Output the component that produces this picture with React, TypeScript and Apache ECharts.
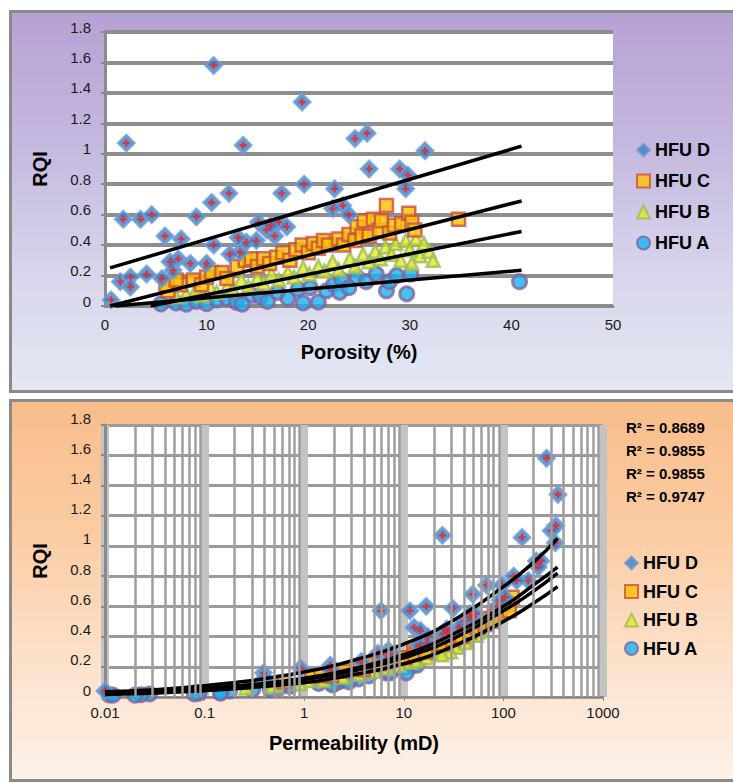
import React, { useEffect, useRef } from "react";
import * as echarts from "echarts";

// Each sample: [porosity %, RQI, permeability mD]
const hfuD: number[][] = [
  [0.6, 0.04, 0.01], [2.1, 1.07, 24.4], [10.7, 1.58, 271], [19.4, 1.34, 353],
  [13.6, 1.056, 154], [24.6, 1.1, 302], [25.8, 1.135, 337], [31.5, 1.02, 332],
  [26.0, 0.9, 214], [29.0, 0.9, 238], [29.8, 0.86, 224], [29.6, 0.77, 178],
  [1.8, 0.57, 5.9], [3.5, 0.57, 11.5], [4.6, 0.6, 16.8], [5.9, 0.46, 12.7],
  [7.5, 0.44, 14.7], [9.0, 0.585, 31.2], [10.5, 0.68, 49.2], [12.2, 0.74, 67.8],
  [17.4, 0.74, 96.6], [19.6, 0.8, 127], [22.6, 0.77, 136], [23.4, 0.66, 103],
  [24.0, 0.6, 87.6], [22.4, 0.64, 93], [1.5, 0.16, 0.39], [2.5, 0.19, 0.92],
  [2.5, 0.125, 0.4], [4.1, 0.21, 1.83], [5.6, 0.18, 1.84], [6.7, 0.235, 3.75],
  [7.2, 0.31, 7.0], [8.4, 0.28, 6.7], [10.0, 0.28, 7.95], [10.7, 0.4, 17.4],
  [13.3, 0.355, 17.0], [13.9, 0.42, 24.9], [15.1, 0.55, 46.3], [15.9, 0.5, 40.3],
  [17.1, 0.55, 52.5], [17.9, 0.52, 49.1], [16.7, 0.46, 35.8], [14.9, 0.43, 27.9],
  [12.3, 0.34, 14.4], [13.1, 0.45, 26.9], [6.4, 0.29, 5.5], [16.3, 0.53, 46.4],
];

const hfuC: number[][] = [
  [6.2, 0.1, 0.63], [6.0, 0.14, 1.19], [7.4, 0.14, 1.47], [7.0, 0.17, 2.05],
  [8.7, 0.17, 2.55], [9.5, 0.14, 1.89], [10.0, 0.19, 3.66], [10.5, 0.22, 5.15],
  [11.5, 0.22, 5.65], [12.0, 0.18, 3.94], [13.0, 0.26, 8.91], [13.8, 0.3, 12.6],
  [14.4, 0.31, 14.0], [15.0, 0.26, 10.3], [15.6, 0.31, 15.2], [16.2, 0.28, 12.9],
  [16.9, 0.32, 17.6], [17.5, 0.35, 21.7], [18.2, 0.3, 16.6], [18.8, 0.37, 26.1],
  [19.4, 0.4, 31.5], [20.0, 0.35, 24.8], [20.5, 0.41, 35.0], [21.0, 0.38, 30.8],
  [21.5, 0.43, 40.3], [22.0, 0.4, 35.7], [23.0, 0.44, 45.2], [23.5, 0.4, 38.1],
  [24.0, 0.47, 53.8], [24.6, 0.43, 46.1], [24.8, 0.52, 68.0], [25.3, 0.46, 54.3],
  [25.5, 0.56, 81.1], [26.0, 0.46, 55.8], [26.4, 0.57, 87.0], [27.0, 0.5, 68.5],
  [27.2, 0.56, 86.5], [27.7, 0.66, 122.4], [28.0, 0.48, 65.4], [28.5, 0.53, 81.2],
  [29.2, 0.54, 86.4], [29.9, 0.61, 112.8], [30.2, 0.55, 92.7], [30.5, 0.5, 77.3],
  [34.8, 0.57, 114.7],
];

const hfuB: number[][] = [
  [7.0, 0.06, 0.26], [8.0, 0.08, 0.52], [9.0, 0.11, 1.1], [9.6, 0.07, 0.48],
  [10.4, 0.12, 1.52], [11.0, 0.09, 0.9], [12.1, 0.14, 2.41], [12.6, 0.11, 1.55],
  [13.4, 0.17, 3.93], [14.1, 0.13, 2.42], [15.0, 0.18, 4.93], [15.6, 0.15, 3.56],
  [16.4, 0.21, 7.34], [17.1, 0.17, 5.01], [18.0, 0.22, 8.84], [18.6, 0.19, 6.81],
  [19.5, 0.25, 12.4], [20.1, 0.21, 8.99], [21.0, 0.26, 14.4], [21.6, 0.23, 11.6],
  [22.4, 0.29, 19.1], [23.0, 0.24, 13.4], [24.1, 0.31, 23.5], [24.6, 0.26, 16.9],
  [25.4, 0.34, 29.8], [26.0, 0.29, 22.2], [26.6, 0.36, 35.0], [27.1, 0.31, 26.4],
  [27.6, 0.39, 42.6], [28.2, 0.34, 33.1], [28.6, 0.41, 48.8], [29.1, 0.3, 26.6],
  [29.6, 0.43, 55.5], [30.0, 0.37, 41.7], [30.6, 0.44, 60.1], [31.0, 0.33, 34.2],
  [31.4, 0.41, 53.5], [31.9, 0.36, 41.9], [32.3, 0.3, 29.5], [30.2, 0.28, 24.0],
];

const hfuA: number[][] = [
  [5.5, 0.014, 0.011], [7.0, 0.02, 0.028], [8.0, 0.012, 0.012], [9.0, 0.03, 0.082],
  [10.0, 0.015, 0.023], [11.0, 0.04, 0.178], [12.0, 0.05, 0.304], [12.9, 0.026, 0.088],
  [13.5, 0.012, 0.02], [14.5, 0.07, 0.72], [15.3, 0.06, 0.56], [16.0, 0.03, 0.146],
  [17.0, 0.09, 1.4], [18.0, 0.05, 0.456], [19.0, 0.11, 2.33], [19.5, 0.02, 0.079],
  [20.2, 0.12, 2.95], [21.0, 0.026, 0.144], [21.8, 0.1, 2.21], [22.5, 0.14, 4.47],
  [23.1, 0.09, 1.9], [23.3, 0.17, 6.83], [24.0, 0.12, 3.51], [24.8, 0.19, 9.08],
  [25.7, 0.16, 6.67], [26.7, 0.21, 11.9], [27.7, 0.1, 2.81], [28.0, 0.16, 7.27],
  [28.7, 0.2, 11.6], [29.7, 0.08, 1.93], [30.1, 0.21, 13.5], [40.8, 0.16, 10.6],
];

// Trend lines
const porTrendD = [[0.5, 0.25], [41, 1.05]];
const porTrendC = [[0.5, 0.0], [41, 0.69]];
const porTrendB = [[4.5, 0.0], [41, 0.49]];
const porTrendA = [[1.0, 0.0], [41, 0.235]];

const permTrendD = [[0.01, 0.035], [0.1, 0.075], [1, 0.165], [3, 0.24], [10, 0.35], [30, 0.5], [100, 0.73], [200, 0.89], [350, 1.05]];
const permTrendC = [[0.01, 0.026], [0.1, 0.057], [1, 0.125], [3, 0.185], [10, 0.28], [30, 0.41], [100, 0.6], [200, 0.74], [350, 0.86]];
const permTrendB = [[0.01, 0.023], [0.1, 0.052], [1, 0.115], [3, 0.17], [10, 0.26], [30, 0.38], [100, 0.57], [200, 0.7], [350, 0.82]];
const permTrendA = [[0.01, 0.017], [0.1, 0.042], [1, 0.095], [3, 0.145], [10, 0.22], [30, 0.33], [100, 0.5], [200, 0.62], [350, 0.73]];

const rSquared = ["R² = 0.8689", "R² = 0.9855", "R² = 0.9855", "R² = 0.9747"];
const legendNames = ["HFU D", "HFU C", "HFU B", "HFU A"];

const FONT = "'Liberation Sans', Arial, Helvetica, sans-serif";
const CROSS = "path://M2,0 L4,0 L4,2 L6,2 L6,4 L4,4 L4,6 L2,6 L2,4 L0,4 L0,2 L2,2 Z";

const styles: Record<string, any> = {
  "HFU D": { symbol: "diamond", symbolSize: 17, itemStyle: { color: "#3f7fc6", borderColor: "#6f9fd6", borderWidth: 2 } },
  "HFU C": { symbol: "rect", symbolSize: 13, itemStyle: { color: "#ffc000", borderColor: "#c8503c", borderWidth: 2.5 } },
  "HFU B": { symbol: "triangle", symbolSize: 13, itemStyle: { color: "#e4e826", borderColor: "#9bbb59", borderWidth: 2.5 } },
  "HFU A": { symbol: "circle", symbolSize: 14, itemStyle: { color: "#18b2ee", borderColor: "#8064a2", borderWidth: 3 } },
};

function minorLogValues(): number[] {
  const out: number[] = [];
  for (let e = -2; e <= 2; e++) {
    for (let m = 2; m <= 9; m++) out.push(Number((m * Math.pow(10, e)).toPrecision(2)));
  }
  return out;
}

export default function App() {
  const ref = useRef<HTMLDivElement>(null);

  useEffect(() => {
    if (!ref.current) return;
    const chart = echarts.init(ref.current, null, { renderer: "svg" });

    const groups: [string, number[][]][] = [
      ["HFU A", hfuA], ["HFU B", hfuB], ["HFU C", hfuC], ["HFU D", hfuD],
    ];

    const series: any[] = [];
    groups.forEach(([name, d]) => {
      series.push({
        type: "scatter", name, xAxisIndex: 0, yAxisIndex: 0, clip: true,
        data: d.map((p) => [p[0], p[1]]), ...styles[name],
      });
    });
    series.push({
      type: "scatter", name: "D cross top", xAxisIndex: 0, yAxisIndex: 0, clip: true,
      data: hfuD.map((p) => [p[0], p[1]]), symbol: CROSS, symbolSize: 7,
      itemStyle: { color: "#e8242b" }, silent: true,
    });
    [porTrendA, porTrendB, porTrendC, porTrendD].forEach((t, i) => {
      series.push({
        type: "line", name: "trend top " + i, xAxisIndex: 0, yAxisIndex: 0,
        data: t, symbol: "none", lineStyle: { color: "#000", width: 3.5 }, silent: true,
      });
    });

    series.push({
      type: "line", name: "minor grid", xAxisIndex: 1, yAxisIndex: 1, data: [], z: 1, silent: true,
      markLine: {
        silent: true, symbol: ["none", "none"], label: { show: false },
        lineStyle: { color: "#9e9e9e", width: 2.5, type: "solid" },
        data: minorLogValues().map((v) => ({ xAxis: v })),
      },
    });
    groups.forEach(([name, d]) => {
      series.push({
        type: "scatter", name, xAxisIndex: 1, yAxisIndex: 1, clip: true,
        data: d.map((p) => [p[2], p[1]]), ...styles[name],
      });
    });
    series.push({
      type: "scatter", name: "D cross bottom", xAxisIndex: 1, yAxisIndex: 1, clip: true,
      data: hfuD.map((p) => [p[2], p[1]]), symbol: CROSS, symbolSize: 7,
      itemStyle: { color: "#e8242b" }, silent: true,
    });
    [permTrendA, permTrendB, permTrendC, permTrendD].forEach((t, i) => {
      series.push({
        type: "line", name: "trend bottom " + i, xAxisIndex: 1, yAxisIndex: 1, smooth: true,
        data: t, symbol: "none", lineStyle: { color: "#000", width: 3.5 }, silent: true,
      });
    });

    const labelStyle = { fontFamily: FONT, fontSize: 15, color: "#1a1a1a" };
    const nameStyle = { fontFamily: FONT, fontSize: 20, fontWeight: "bold", color: "#000" };
    const legendText = { fontFamily: FONT, fontSize: 18, fontWeight: "bold", color: "#000", lineHeight: 18 };

    const option: any = {
      animation: false,
      backgroundColor: "transparent",
      textStyle: { fontFamily: FONT },
      grid: [
        { left: 105, top: 32, width: 508, height: 274, show: true, backgroundColor: "#ffffff", borderWidth: 0 },
        { left: 105, top: 425, width: 498, height: 272, show: true, backgroundColor: "#ffffff", borderWidth: 0 },
      ],
      xAxis: [
        {
          type: "value", gridIndex: 0, min: 0, max: 50, interval: 10,
          axisLine: { show: true, lineStyle: { color: "#8a8a8a", width: 3 } },
          axisTick: { show: false },
          splitLine: { show: false },
          axisLabel: { ...labelStyle, margin: 11 },
          name: "Porosity (%)", nameLocation: "middle", nameGap: 36, nameTextStyle: nameStyle,
        },
        {
          type: "log", logBase: 10, gridIndex: 1, min: 0.01, max: 1000,
          axisLine: { show: true, lineStyle: { color: "#8a8a8a", width: 2 } },
          axisTick: { show: true, length: 4, lineStyle: { color: "#8a8a8a" } },
          splitLine: { show: true, lineStyle: { color: "#c3c3c3", width: 8 } },
          axisLabel: { ...labelStyle, margin: 8, formatter: (v: number) => String(parseFloat(Number(v).toPrecision(6))) },
          name: "Permeability (mD)", nameLocation: "middle", nameGap: 36, nameTextStyle: nameStyle,
        },
      ],
      yAxis: [
        {
          type: "value", gridIndex: 0, min: 0, max: 1.8, interval: 0.2,
          axisLine: { show: true, lineStyle: { color: "#8a8a8a", width: 3 } },
          axisTick: { show: true, length: 4, lineStyle: { color: "#8a8a8a", width: 2 } },
          splitLine: { show: true, lineStyle: { color: "#8e8e8e", width: 4 } },
          axisLabel: { ...labelStyle, margin: 14, verticalAlign: "bottom", lineHeight: 10 },
          name: "RQI", nameLocation: "middle", nameGap: 55, nameRotate: 90, nameTextStyle: nameStyle,
        },
        {
          type: "value", gridIndex: 1, min: 0, max: 1.8, interval: 0.2,
          axisLine: { show: true, lineStyle: { color: "#8a8a8a", width: 3 } },
          axisTick: { show: true, length: 4, lineStyle: { color: "#8a8a8a", width: 2 } },
          splitLine: { show: true, lineStyle: { color: "#9a9a9a", width: 3 } },
          axisLabel: { ...labelStyle, margin: 14, verticalAlign: "bottom", lineHeight: 14 },
          name: "RQI", nameLocation: "middle", nameGap: 55, nameRotate: 90, nameTextStyle: nameStyle,
        },
      ],
      legend: [
        {
          data: legendNames, orient: "vertical", left: 636, top: 141, padding: 0, itemGap: 13,
          itemWidth: 13, itemHeight: 13, selectedMode: false, textStyle: legendText,
        },
        {
          data: legendNames, orient: "vertical", left: 624, top: 554, padding: 0, itemGap: 10.5,
          itemWidth: 13, itemHeight: 13, selectedMode: false, textStyle: legendText,
        },
      ],
      graphic: rSquared.map((t, i) => ({
        type: "text", left: 626, top: 420 + i * 23,
        style: { text: t, fontFamily: FONT, fontSize: 15, fontWeight: "bold", fill: "#000" },
      })),
      series,
    };

    chart.setOption(option);
    return () => chart.dispose();
  }, []);

  return (
    <div style={{ position: "fixed", left: 0, top: 0, width: 733, height: 783, background: "#ffffff", overflow: "hidden" }}>
      <div
        style={{
          position: "absolute", left: 9, top: 10, width: 740, height: 383, boxSizing: "border-box",
          border: "3px solid #8a8a8a",
          background: "linear-gradient(180deg, #b6a2d4 0%, #c5b8df 35%, #d8d6ec 70%, #e3e8f4 100%)",
        }}
      />
      <div
        style={{
          position: "absolute", left: 9, top: 399, width: 740, height: 383, boxSizing: "border-box",
          border: "3px solid #8a8a8a",
          background: "linear-gradient(180deg, #f8bd8a 0%, #fbcca4 35%, #fde2cc 70%, #fdf1e8 100%)",
        }}
      />
      <div ref={ref} style={{ position: "absolute", left: 0, top: 0, width: 733, height: 783 }} />
    </div>
  );
}
